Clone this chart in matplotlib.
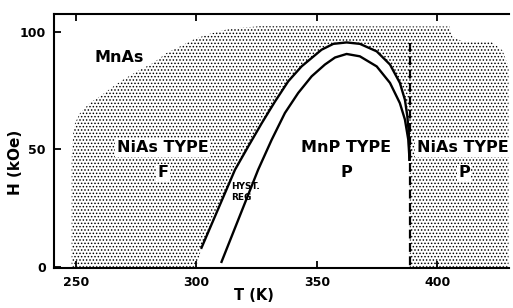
import numpy as np
import matplotlib
matplotlib.use("Agg")
import matplotlib.pyplot as plt
from matplotlib.patches import Polygon

plt.rcParams['font.family'] = ['DejaVu Sans']
plt.rcParams['font.weight'] = 'bold'
plt.rcParams['hatch.linewidth'] = 0.65

# outer edge of the stippled (NiAs type) region, left part and top
edge_T = [248.2, 248.2, 248.9, 249.6, 251.7, 255.8, 260.0, 265.5, 269.6, 276.6, 282.1,
          287.6, 293.2, 298.7, 304.2, 312.5, 318.0, 326.3, 405.0, 406.0, 410.0, 422.0,
          427.0, 429.5, 429.5]
edge_H = [0.0, 45.5, 56.9, 61.1, 65.4, 69.7, 72.5, 76.7, 79.6, 83.8, 86.7,
          90.9, 93.7, 96.6, 98.7, 100.9, 101.6, 102.3, 102.2, 98.0, 96.0, 96.0,
          92.0, 85.0, 0.0]

# upper phase boundary (field increasing)
outer_T = [300.0, 302.1, 316.0, 321.5, 327.1, 332.6, 338.1, 343.6, 351.9, 356.8, 362.3,
           367.8, 374.8, 380.3, 384.4, 386.5, 387.5, 388.1, 388.4]
outer_H = [0.0, 8.1, 41.3, 51.2, 61.1, 70.3, 78.9, 85.2, 92.3, 94.8, 95.4,
           94.8, 91.6, 86.0, 78.2, 71.0, 64.0, 56.9, 45.5]

# lower phase boundary (field decreasing)
inner_T = [310.4, 325.6, 331.2, 336.7, 342.2, 347.8, 353.3, 357.5, 362.3, 367.8, 374.8,
           380.3, 384.4, 386.5, 387.9, 388.4]
inner_H = [2.1, 41.3, 54.0, 65.4, 73.9, 81.0, 86.0, 89.0, 90.5, 89.5, 85.2,
           78.2, 69.6, 62.6, 54.0, 45.5]

# second-order line (dashed)
dash_T = [388.5, 388.5]
dash_H = [95.0, 0.0]

fig = plt.figure(figsize=(5.13, 3.08), dpi=100)
ax = fig.add_axes([0.1053, 0.1299, 0.887, 0.8247])

# stippled region: outer edge, then back along dashed line and the upper boundary
poly_T = edge_T + [dash_T[1], dash_T[1]] + outer_T[::-1][1:]
poly_H = edge_H + [dash_H[1], outer_H[-1]] + outer_H[::-1][1:]
ax.add_patch(Polygon(np.column_stack([poly_T, poly_H]), closed=True,
                     facecolor='white', edgecolor='black', linewidth=0,
                     hatch='.....'))

ax.plot(outer_T[1:], outer_H[1:], color='black', lw=1.7)
ax.plot(inner_T, inner_H, color='black', lw=1.7)
ax.plot(dash_T, dash_H, color='black', lw=1.6, ls=(0, (4, 2)))

ax.set_xlim(240.9, 429.7)
ax.set_ylim(-0.5, 107.5)
ax.set_xticks([250, 300, 350, 400])
ax.set_yticks([0, 50, 100])
ax.tick_params(direction='in', length=5, width=1.3, labelsize=9, top=True,
               pad=6)
for lab in ax.get_xticklabels() + ax.get_yticklabels():
    lab.set_fontweight('bold')
ax.spines['right'].set_visible(False)
for s in ['left', 'bottom', 'top']:
    ax.spines[s].set_linewidth(1.5)

ax.set_xlabel('T (K)', fontsize=10.5, fontweight='bold')
ax.set_ylabel('H (kOe)', fontsize=11, fontweight='bold')
ax.xaxis.set_label_coords(0.44, -0.08)
ax.yaxis.set_label_coords(-0.068, 0.417)

box = dict(facecolor='white', edgecolor='none', pad=1.0)
kw = dict(fontsize=11.5, fontweight='bold', ha='center', va='center')
ax.text(268, 89, 'MnAs', **kw)
ax.text(286, 50.6, 'NiAs TYPE', bbox=box, **kw)
ax.text(286, 40, 'F', bbox=box, **kw)
ax.text(362, 50.6, 'MnP TYPE', **kw)
ax.text(362, 40, 'P', **kw)
ax.text(410.5, 50.6, 'NiAs TYPE', bbox=box, **kw)
ax.text(411, 40, 'P', bbox=box, **kw)
ax.text(320.5, 34, 'HYST.', fontsize=6.5, fontweight='bold', ha='center', va='center')
ax.text(318.5, 29.4, 'REG', fontsize=6.5, fontweight='bold', ha='center', va='center')

fig.savefig('out.png', dpi=100)
